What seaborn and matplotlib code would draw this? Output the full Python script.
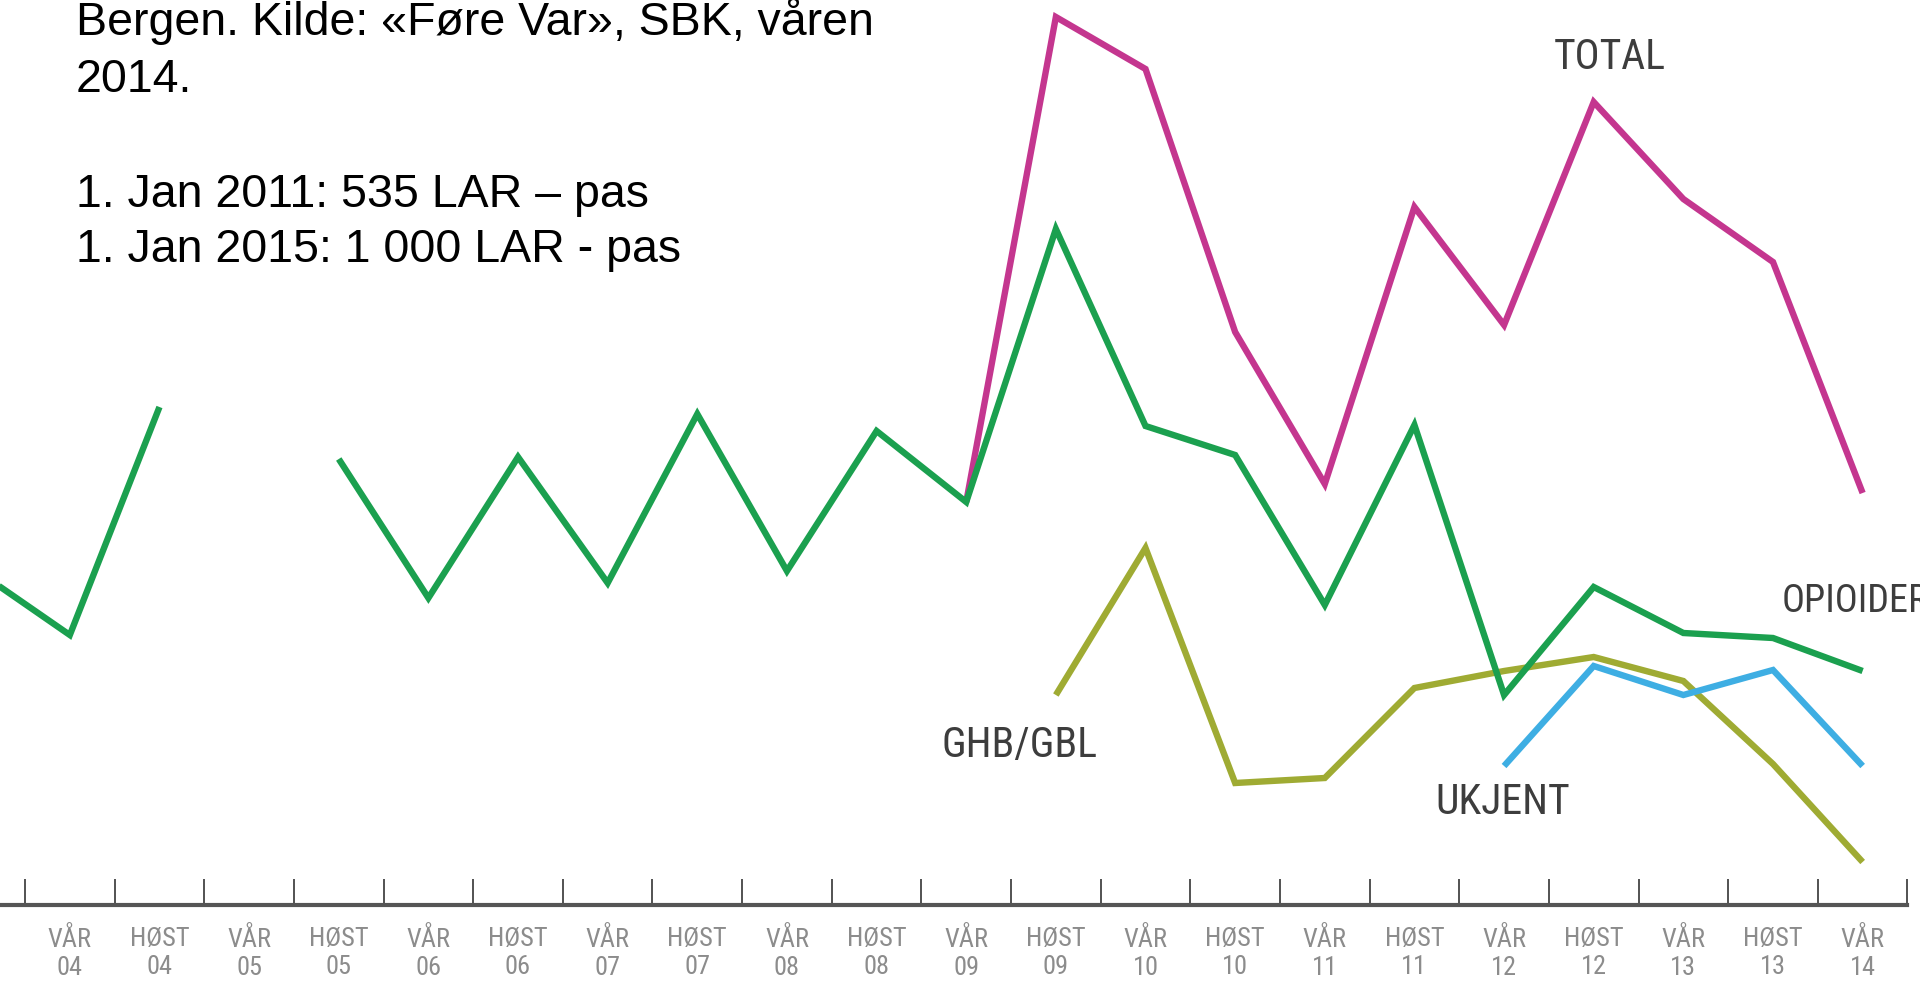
import numpy as np
import pandas as pd
import matplotlib
matplotlib.use("Agg")
import matplotlib.pyplot as plt
import seaborn as sns
from matplotlib import font_manager

sns.set_theme(style="white")

# halvår (første er nesten utenfor bildet)
PERIODS = ["HØST\n03", "VÅR\n04", "HØST\n04", "VÅR\n05", "HØST\n05", "VÅR\n06",
           "HØST\n06", "VÅR\n07", "HØST\n07", "VÅR\n08", "HØST\n08", "VÅR\n09",
           "HØST\n09", "VÅR\n10", "HØST\n10", "VÅR\n11", "HØST\n11", "VÅR\n12",
           "HØST\n12", "VÅR\n13", "HØST\n13", "VÅR\n14"]

nan = np.nan
OPIOIDER = [332, 270, 498, nan, 446, 307, 448, 322, 491, 334, 474, 403,
            676, 479, 450, 300, 480, 210, 318, 272, 267, 234]
TOTAL = [nan] * 11 + [403, 888, 836, 573, 421, 698, 580, 803, 706, 643, 412]
GHB = [nan] * 12 + [210, 357, 122, 127, 217, 234, 248, 224, 141, 43]
UKJENT = [nan] * 17 + [139, 239, 210, 235, 139]

COLORS = {"TOTAL": "#c4368f", "GHB/GBL": "#9fab33",
          "UKJENT": "#3eaee3", "OPIOIDER": "#1ba04f"}


def condensed_font():
    entries = font_manager.fontManager.ttflist
    names = {f.name for f in entries}
    for fam in ["Roboto Condensed", "Liberation Sans Narrow", "Open Sans Condensed"]:
        if fam in names:
            return {"family": fam}
    if any(f.name == "DejaVu Sans" and str(f.stretch) == "condensed" for f in entries):
        return {"family": "DejaVu Sans", "stretch": "condensed"}
    return {"family": "DejaVu Sans"}


COND = condensed_font()

df = pd.DataFrame({"idx": range(len(PERIODS)), "OPIOIDER": OPIOIDER,
                   "TOTAL": TOTAL, "GHB/GBL": GHB, "UKJENT": UKJENT})
long = df.melt(id_vars="idx", var_name="serie", value_name="verdi")
# egne segmenter der data mangler, så linja brytes
long["seg"] = long.groupby("serie")["verdi"].transform(lambda s: s.isna().cumsum())
long = long.dropna(subset=["verdi"])

fig = plt.figure(figsize=(19.2, 9.87), dpi=100)
ax = fig.add_axes([0, 0, 1, 1])

for serie in ["TOTAL", "GHB/GBL", "UKJENT", "OPIOIDER"]:
    sub = long[long["serie"] == serie]
    sns.lineplot(data=sub, x="idx", y="verdi", units="seg", estimator=None,
                 color=COLORS[serie], linewidth=4.6, sort=False, ax=ax,
                 solid_joinstyle="miter", solid_capstyle="butt", legend=False)

ax.set_xlabel("")
ax.set_ylabel("")
ax.set_yticks([])

# spine-posisjon først (set_position nullstiller tickene)
for s in ["left", "top", "right"]:
    ax.spines[s].set_visible(False)
ax.spines["bottom"].set_position(("data", 0))
ax.spines["bottom"].set_color("#555555")
ax.spines["bottom"].set_linewidth(3)

ax.set_xticks(range(len(PERIODS)))
ax.set_xticklabels(PERIODS, color="#8c8c8c", fontsize=19, linespacing=1.2, **COND)
ax.set_xticks(np.arange(0.5, len(PERIODS), 1.0), minor=True)
ax.tick_params(axis="x", which="major", bottom=True, length=0, pad=15)
ax.tick_params(axis="x", which="minor", bottom=True, direction="in",
               length=19, width=1.3, color="#444444")

# grensene settes etter tickene, ellers utvides de
ax.set_xlim(0.221, 21.64)
ax.set_ylim(-81, 906)
ax.spines["bottom"].set_bounds(0.221, 21.5)

# serienavn
lab = dict(color="#3d3d3d", fontsize=30, ha="center", va="center", **COND)
ax.text(18.18, 848, "TOTAL", **lab)
ax.text(11.59, 160, "GHB/GBL", **lab)
ax.text(16.98, 103, "UKJENT", **lab)
ax.text(20.10, 304, "OPIOIDER", **{**lab, "ha": "left", "fontsize": 27.5})

# tekst oppe til venstre
lines = [("Bergen. Kilde: «Føre Var», SBK, våren", 35), ("2014.", 92),
         ("1. Jan 2011: 535 LAR – pas", 207), ("1. Jan 2015: 1 000 LAR - pas", 262)]
for txt, ypix in lines:
    fig.text(76 / 1920, 1 - ypix / 987, txt, fontsize=33.5, family="Liberation Sans",
             color="black", va="baseline", ha="left")

fig.savefig("out.png", dpi=100)
